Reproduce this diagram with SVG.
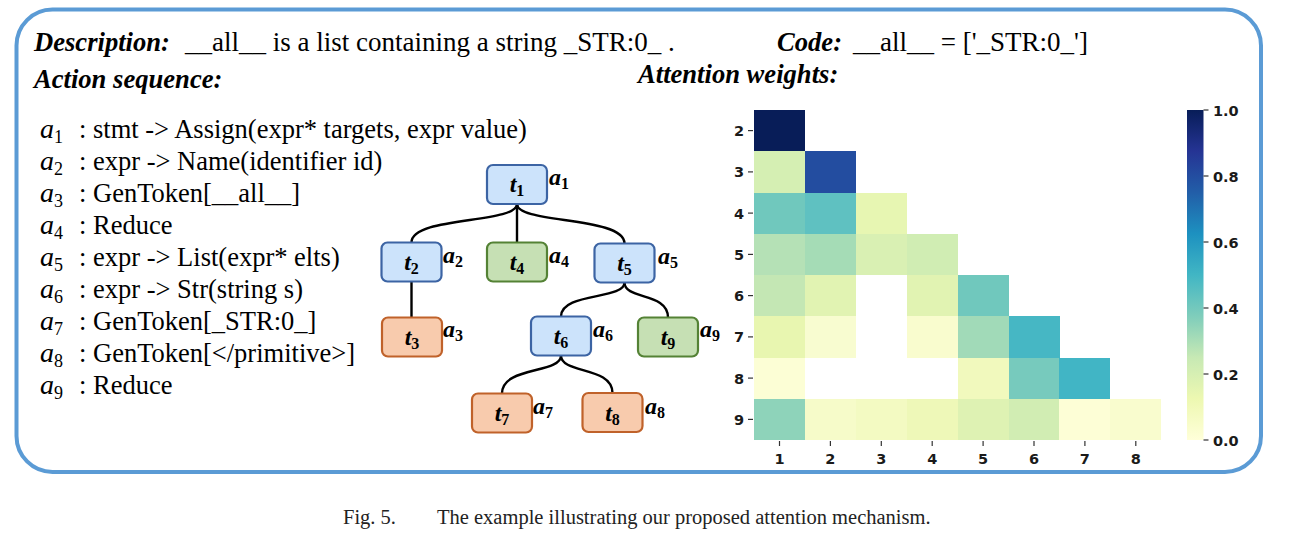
<svg xmlns="http://www.w3.org/2000/svg" width="1299" height="533" viewBox="0 0 1299 533">
<style>
.hb{font-family:"Liberation Serif",serif;font-weight:bold;font-style:italic;font-size:26.6px;fill:#000}
.hr{font-family:"Liberation Serif",serif;font-size:27px;fill:#000}
.act{font-family:"Liberation Serif",serif;font-size:26.5px;fill:#000}
.mi{font-style:italic;font-size:28px}
.ms{font-size:18px}
.node rect{stroke-width:2.2}
.blue rect{fill:#cce3fb;stroke:#3c64a4}
.green rect{fill:#c6e0b4;stroke:#548235}
.orange rect{fill:#f8cbad;stroke:#c0622a}
.tl{font-family:"Liberation Serif",serif;font-weight:bold;font-style:italic;font-size:24px;fill:#000;text-anchor:middle}
.al{font-family:"Liberation Serif",serif;font-weight:bold;font-style:italic;font-size:24px;fill:#000}
.sb{font-size:16px;font-style:normal}
.conn path{fill:none;stroke:#000;stroke-width:2.4}
.tick{font-family:"DejaVu Sans",sans-serif;font-weight:bold;font-size:14.5px;fill:#1a1a1a}
.tk{stroke:#333;stroke-width:1.2}
.cap{font-family:"Liberation Serif",serif;font-size:20.5px;fill:#222}
</style>
<defs>
<linearGradient id="ylgnbu" x1="0" y1="1" x2="0" y2="0">
<stop offset="0" stop-color="#ffffd9"/>
<stop offset="0.125" stop-color="#edf8b1"/>
<stop offset="0.25" stop-color="#c7e9b4"/>
<stop offset="0.375" stop-color="#7fcdbb"/>
<stop offset="0.5" stop-color="#41b6c4"/>
<stop offset="0.625" stop-color="#1d91c0"/>
<stop offset="0.75" stop-color="#225ea8"/>
<stop offset="0.875" stop-color="#253494"/>
<stop offset="1" stop-color="#081d58"/>
</linearGradient>
</defs>
<rect x="16.5" y="9.5" width="1244.5" height="462.5" rx="36" ry="36" fill="#fff" stroke="#5b9bd5" stroke-width="4"/>

<g id="header">
<text class="hb" x="34" y="51">Description:</text>
<text class="hr" x="185" y="51">__all__ is a list containing a string _STR:0_ .</text>
<text class="hb" x="777" y="51">Code:</text>
<text class="hr" x="853" y="51">__all__ = ['_STR:0_']</text>
<text class="hb" x="34" y="88">Action sequence:</text>
<text class="hb" x="638" y="83">Attention weights:</text>
</g>

<g id="actions" class="act">
<text x="40" y="138"><tspan class="mi">a</tspan><tspan class="ms" dy="5">1</tspan><tspan x="79" dy="-5">: stmt -&gt; Assign(expr* targets, expr value)</tspan></text>
<text x="40" y="170"><tspan class="mi">a</tspan><tspan class="ms" dy="5">2</tspan><tspan x="79" dy="-5">: expr -&gt; Name(identifier id)</tspan></text>
<text x="40" y="202"><tspan class="mi">a</tspan><tspan class="ms" dy="5">3</tspan><tspan x="79" dy="-5">: GenToken[__all__]</tspan></text>
<text x="40" y="234"><tspan class="mi">a</tspan><tspan class="ms" dy="5">4</tspan><tspan x="79" dy="-5">: Reduce</tspan></text>
<text x="40" y="266"><tspan class="mi">a</tspan><tspan class="ms" dy="5">5</tspan><tspan x="79" dy="-5">: expr -&gt; List(expr* elts)</tspan></text>
<text x="40" y="298"><tspan class="mi">a</tspan><tspan class="ms" dy="5">6</tspan><tspan x="79" dy="-5">: expr -&gt; Str(string s)</tspan></text>
<text x="40" y="330"><tspan class="mi">a</tspan><tspan class="ms" dy="5">7</tspan><tspan x="79" dy="-5">: GenToken[_STR:0_]</tspan></text>
<text x="40" y="362"><tspan class="mi">a</tspan><tspan class="ms" dy="5">8</tspan><tspan x="79" dy="-5">: GenToken[&lt;/primitive&gt;]</tspan></text>
<text x="40" y="394"><tspan class="mi">a</tspan><tspan class="ms" dy="5">9</tspan><tspan x="79" dy="-5">: Reduce</tspan></text>
</g>

<g id="connectors" class="conn">
<path d="M517,204 C517,224 411.5,216 411.5,242.5"/>
<path d="M517,204 L517,242.5"/>
<path d="M517,204 C517,224 624.5,216 624.5,243.5"/>
<path d="M411.5,281.5 L411.5,317.5"/>
<path d="M624.5,282.5 C624.5,300 561,292 561,316.5"/>
<path d="M624.5,282.5 C624.5,300 668,292 668,317.5"/>
<path d="M561,355.5 C561,374 502,366 502,393.5"/>
<path d="M561,355.5 C561,374 612.5,366 612.5,393"/>
</g>

<g id="t1" class="node blue"><rect x="487" y="165" width="60" height="39" rx="6"/><text class="tl" x="517" y="192">t<tspan class="sb" dy="4">1</tspan></text><text class="al" x="549" y="185">a<tspan class="sb" dy="4">1</tspan></text></g>
<g id="t2" class="node blue"><rect x="381.5" y="242.5" width="60" height="39" rx="6"/><text class="tl" x="411.5" y="270">t<tspan class="sb" dy="4">2</tspan></text><text class="al" x="443" y="263">a<tspan class="sb" dy="4">2</tspan></text></g>
<g id="t4" class="node green"><rect x="487" y="242.5" width="60" height="39" rx="6"/><text class="tl" x="517" y="270">t<tspan class="sb" dy="4">4</tspan></text><text class="al" x="549" y="263">a<tspan class="sb" dy="4">4</tspan></text></g>
<g id="t5" class="node blue"><rect x="594.5" y="243.5" width="60" height="39" rx="6"/><text class="tl" x="624.5" y="271">t<tspan class="sb" dy="4">5</tspan></text><text class="al" x="658" y="264">a<tspan class="sb" dy="4">5</tspan></text></g>
<g id="t3" class="node orange"><rect x="382" y="317.5" width="60" height="39" rx="6"/><text class="tl" x="412" y="345">t<tspan class="sb" dy="4">3</tspan></text><text class="al" x="443" y="337">a<tspan class="sb" dy="4">3</tspan></text></g>
<g id="t6" class="node blue"><rect x="531" y="316.5" width="60" height="39" rx="6"/><text class="tl" x="561" y="344">t<tspan class="sb" dy="4">6</tspan></text><text class="al" x="593" y="337">a<tspan class="sb" dy="4">6</tspan></text></g>
<g id="t9" class="node green"><rect x="638" y="317.5" width="60" height="39" rx="6"/><text class="tl" x="668" y="345">t<tspan class="sb" dy="4">9</tspan></text><text class="al" x="700" y="337">a<tspan class="sb" dy="4">9</tspan></text></g>
<g id="t7" class="node orange"><rect x="472" y="393.5" width="60" height="39" rx="6"/><text class="tl" x="502" y="421">t<tspan class="sb" dy="4">7</tspan></text><text class="al" x="533" y="414">a<tspan class="sb" dy="4">7</tspan></text></g>
<g id="t8" class="node orange"><rect x="582.5" y="393" width="60" height="39" rx="6"/><text class="tl" x="612.5" y="421">t<tspan class="sb" dy="4">8</tspan></text><text class="al" x="645" y="414">a<tspan class="sb" dy="4">8</tspan></text></g>

<g id="heatmap">
<g shape-rendering="crispEdges">
<rect x="754" y="110" width="51" height="41.3" fill="#081d58"/>
<rect x="754" y="151.25" width="51" height="41.3" fill="#d5efb3"/>
<rect x="804.9" y="151.25" width="51" height="41.3" fill="#234da0"/>
<rect x="754" y="192.5" width="51" height="41.3" fill="#70c8bd"/>
<rect x="804.9" y="192.5" width="51" height="41.3" fill="#5fc1c1"/>
<rect x="855.8" y="192.5" width="51" height="41.3" fill="#e7f6b2"/>
<rect x="754" y="233.75" width="51" height="41.3" fill="#b5e1b6"/>
<rect x="804.9" y="233.75" width="51" height="41.3" fill="#a5dcb6"/>
<rect x="855.8" y="233.75" width="51" height="41.3" fill="#d9f0b3"/>
<rect x="906.7" y="233.75" width="51" height="41.3" fill="#d0edb3"/>
<rect x="754" y="275" width="51" height="41.3" fill="#c4e7b4"/>
<rect x="804.9" y="275" width="51" height="41.3" fill="#e1f3b2"/>
<rect x="906.7" y="275" width="51" height="41.3" fill="#e1f3b2"/>
<rect x="957.6" y="275" width="51" height="41.3" fill="#70c8bd"/>
<rect x="754" y="316.25" width="51" height="41.3" fill="#e8f6b0"/>
<rect x="804.9" y="316.25" width="51" height="41.3" fill="#f8fcd0"/>
<rect x="906.7" y="316.25" width="51" height="41.3" fill="#f9fcce"/>
<rect x="957.6" y="316.25" width="51" height="41.3" fill="#a1dab8"/>
<rect x="1008.5" y="316.25" width="51" height="41.3" fill="#46b7c4"/>
<rect x="754" y="357.5" width="51" height="41.3" fill="#fcfed5"/>
<rect x="957.6" y="357.5" width="51" height="41.3" fill="#f1f9bd"/>
<rect x="1008.5" y="357.5" width="51" height="41.3" fill="#77cabd"/>
<rect x="1059.4" y="357.5" width="51" height="41.3" fill="#41b5c5"/>
<rect x="754" y="398.75" width="51" height="41.3" fill="#8ed3ba"/>
<rect x="804.9" y="398.75" width="51" height="41.3" fill="#f6fbc9"/>
<rect x="855.8" y="398.75" width="51" height="41.3" fill="#f3fac2"/>
<rect x="906.7" y="398.75" width="51" height="41.3" fill="#eef8b8"/>
<rect x="957.6" y="398.75" width="51" height="41.3" fill="#def2b3"/>
<rect x="1008.5" y="398.75" width="51" height="41.3" fill="#d1edb3"/>
<rect x="1059.4" y="398.75" width="51" height="41.3" fill="#fdfed6"/>
<rect x="1110.3" y="398.75" width="50.9" height="41.25" fill="#f9fcce"/>
</g>
<g class="tk">
<line x1="748" y1="130.6" x2="753" y2="130.6"/>
<line x1="748" y1="171.9" x2="753" y2="171.9"/>
<line x1="748" y1="213.1" x2="753" y2="213.1"/>
<line x1="748" y1="254.4" x2="753" y2="254.4"/>
<line x1="748" y1="295.6" x2="753" y2="295.6"/>
<line x1="748" y1="336.9" x2="753" y2="336.9"/>
<line x1="748" y1="378.1" x2="753" y2="378.1"/>
<line x1="748" y1="419.4" x2="753" y2="419.4"/>
<line x1="779.5" y1="441" x2="779.5" y2="446"/>
<line x1="830.4" y1="441" x2="830.4" y2="446"/>
<line x1="881.3" y1="441" x2="881.3" y2="446"/>
<line x1="932.2" y1="441" x2="932.2" y2="446"/>
<line x1="983.1" y1="441" x2="983.1" y2="446"/>
<line x1="1034" y1="441" x2="1034" y2="446"/>
<line x1="1084.9" y1="441" x2="1084.9" y2="446"/>
<line x1="1135.8" y1="441" x2="1135.8" y2="446"/>
</g>
<g class="tick" text-anchor="end">
<text x="744" y="136">2</text>
<text x="744" y="177.3">3</text>
<text x="744" y="218.5">4</text>
<text x="744" y="259.8">5</text>
<text x="744" y="301">6</text>
<text x="744" y="342.3">7</text>
<text x="744" y="383.5">8</text>
<text x="744" y="424.8">9</text>
</g>
<g class="tick" text-anchor="middle">
<text x="779.5" y="463.5">1</text>
<text x="830.4" y="463.5">2</text>
<text x="881.3" y="463.5">3</text>
<text x="932.2" y="463.5">4</text>
<text x="983.1" y="463.5">5</text>
<text x="1034" y="463.5">6</text>
<text x="1084.9" y="463.5">7</text>
<text x="1135.8" y="463.5">8</text>
</g>
</g>

<g id="colorbar">
<rect x="1187" y="110" width="16.5" height="330" fill="url(#ylgnbu)"/>
<g class="tk">
<line x1="1203.5" y1="110" x2="1208.5" y2="110"/>
<line x1="1203.5" y1="176" x2="1208.5" y2="176"/>
<line x1="1203.5" y1="242" x2="1208.5" y2="242"/>
<line x1="1203.5" y1="308" x2="1208.5" y2="308"/>
<line x1="1203.5" y1="374" x2="1208.5" y2="374"/>
<line x1="1203.5" y1="440" x2="1208.5" y2="440"/>
</g>
<g class="tick">
<text x="1213" y="115.5">1.0</text>
<text x="1213" y="181.5">0.8</text>
<text x="1213" y="247.5">0.6</text>
<text x="1213" y="313.5">0.4</text>
<text x="1213" y="379.5">0.2</text>
<text x="1213" y="445.5">0.0</text>
</g>
</g>

<text class="cap" x="343" y="524">Fig. 5.<tspan x="437">The example illustrating our proposed attention mechanism.</tspan></text>
</svg>
